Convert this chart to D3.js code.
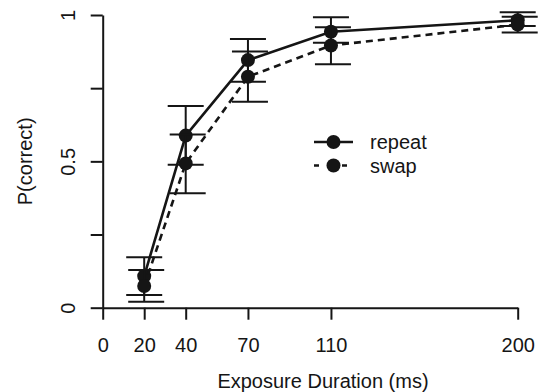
<!DOCTYPE html>
<html>
<head>
<meta charset="utf-8">
<script src="https://cdn.jsdelivr.net/npm/d3@7"></script>
<style>
  body { margin: 0; background: #fff; }
  svg { display: block; font-family: "Liberation Sans", Arial, Helvetica, sans-serif; }
</style>
</head>
<body>
<svg width="538" height="392"></svg>
<script>
var xVals = [20, 40, 70, 110, 200];
var repeatMean = [0.108, 0.588, 0.846, 0.943, 0.982];
var repeatLo   = [0.043, 0.488, 0.772, 0.905, 0.962];
var repeatHi   = [0.172, 0.689, 0.918, 0.992, 1.009];
var swapMean   = [0.074, 0.493, 0.789, 0.896, 0.967];
var swapLo     = [0.020, 0.391, 0.704, 0.832, 0.940];
var swapHi     = [0.129, 0.592, 0.875, 0.958, 0.994];
var xTicks = [0, 20, 40, 70, 110, 200];
var yTicks = [0, 0.25, 0.5, 0.75, 1];
var yTickLabels = ["0", "", "0.5", "", "1"];
var seriesNames = ["repeat", "swap"];

var svg = d3.select("svg"),
    ink = "#151515";

var x = d3.scaleLinear().domain([0, 200]).range([102.7, 517.7]);
var y = d3.scaleLinear().domain([0, 1]).range([307.7, 15]);

var series = [
  {name: seriesNames[0], mean: repeatMean, lo: repeatLo, hi: repeatHi, dash: null, off: 0},
  {name: seriesNames[1], mean: swapMean, lo: swapLo, hi: swapHi, dash: "7,5", off: 2}
];

// axes
var xAxis = svg.append("g")
    .attr("transform", "translate(0," + y(0) + ")")
    .call(d3.axisBottom(x).tickValues(xTicks).tickSize(12).tickSizeOuter(0).tickPadding(6));
var yAxis = svg.append("g")
    .attr("transform", "translate(" + x(0) + ",0)")
    .call(d3.axisLeft(y).tickValues(yTicks).tickSize(12).tickSizeOuter(0)
      .tickFormat(function(d, i) { return yTickLabels[i]; }));

svg.selectAll(".domain, .tick line").attr("stroke", ink).attr("stroke-width", 2);
xAxis.selectAll("text").attr("fill", ink).style("font-size", "20px")
    .attr("y", 0).attr("dy", 0)
    .attr("transform", "translate(0,44)");
yAxis.selectAll("text").attr("fill", ink).style("font-size", "20px")
    .attr("x", 0).attr("dy", 0)
    .attr("text-anchor", "middle")
    .attr("transform", "translate(-28,0) rotate(-90)");

// axis titles
svg.append("text")
    .attr("x", 323).attr("y", 388)
    .attr("text-anchor", "middle")
    .attr("fill", ink).style("font-size", "20px")
    .text("Exposure Duration (ms)");
svg.append("text")
    .attr("transform", "translate(32," + y(0.5) + ") rotate(-90)")
    .attr("text-anchor", "middle")
    .attr("fill", ink).style("font-size", "20px")
    .text("P(correct)");

var line = d3.line()
    .x(function(d) { return x(d[0]); })
    .y(function(d) { return y(d[1]); });

series.forEach(function(s) {
  var pts = xVals.map(function(v, i) { return [v, s.mean[i]]; });

  svg.append("path")
      .datum(pts)
      .attr("d", line)
      .attr("fill", "none")
      .attr("stroke", ink)
      .attr("stroke-width", 2.6)
      .attr("stroke-dasharray", s.dash);

  var eb = svg.append("g").attr("stroke", ink).attr("stroke-width", 2);
  xVals.forEach(function(v, i) {
    var cx = x(v) + s.off;
    eb.append("line").attr("x1", x(v)).attr("x2", x(v)).attr("y1", y(s.lo[i])).attr("y2", y(s.hi[i]));
    eb.append("line").attr("x1", cx - 18).attr("x2", cx + 18).attr("y1", y(s.lo[i])).attr("y2", y(s.lo[i]));
    eb.append("line").attr("x1", cx - 18).attr("x2", cx + 18).attr("y1", y(s.hi[i])).attr("y2", y(s.hi[i]));
  });

  svg.append("g").selectAll("circle")
      .data(pts)
      .enter().append("circle")
      .attr("cx", function(d) { return x(d[0]); })
      .attr("cy", function(d) { return y(d[1]); })
      .attr("r", 7)
      .attr("fill", ink);
});

// legend
var legend = svg.append("g").attr("transform", "translate(314,142)");
series.forEach(function(s, i) {
  var row = legend.append("g").attr("transform", "translate(0," + (i * 23.5) + ")");
  row.append("line")
      .attr("x1", 0).attr("x2", 39).attr("y1", 0).attr("y2", 0)
      .attr("stroke", ink).attr("stroke-width", 2.6)
      .attr("stroke-dasharray", s.dash ? "5,9" : null);
  row.append("circle").attr("cx", 19.5).attr("cy", 0).attr("r", 7).attr("fill", ink);
  row.append("text")
      .attr("x", 56).attr("y", 7)
      .attr("fill", ink).style("font-size", "20px")
      .text(s.name);
});
</script>
</body>
</html>
